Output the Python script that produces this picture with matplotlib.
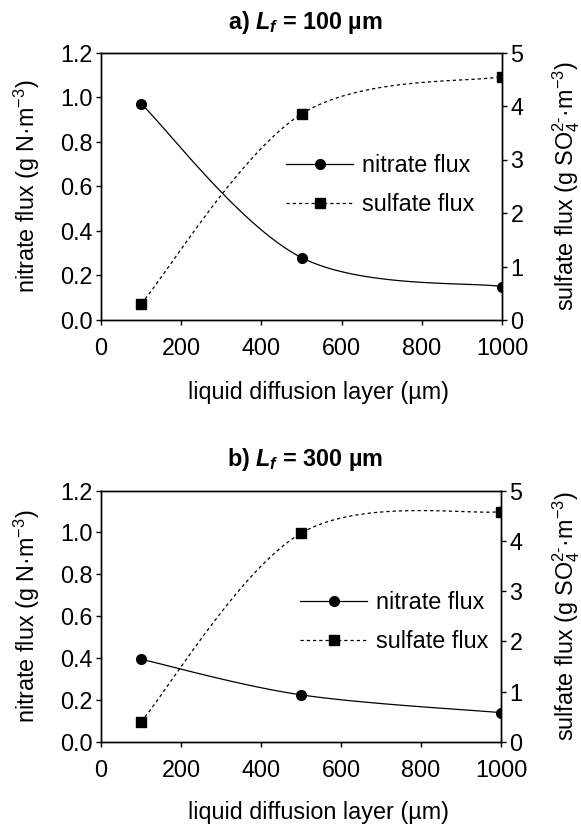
import numpy as np
import matplotlib
matplotlib.use("Agg")
import matplotlib.pyplot as plt

plt.rcParams['font.family'] = ['Liberation Sans', 'DejaVu Sans']
plt.rcParams['mathtext.fontset'] = 'custom'
plt.rcParams['mathtext.rm'] = 'Liberation Sans'
plt.rcParams['mathtext.it'] = 'Liberation Sans:italic:bold'
plt.rcParams['mathtext.bf'] = 'Liberation Sans:bold'

# data
layer = [100, 500, 1000]          # liquid diffusion layer (um)
nitrate_a = [0.97, 0.28, 0.15]    # g N/m3
sulfate_a = [0.30, 3.85, 4.55]    # g SO4/m3
nitrate_b = [0.395, 0.225, 0.14]
sulfate_b = [0.40, 4.15, 4.58]
titles = [r'a) $L_f$ = 100 µm', r'b) $L_f$ = 300 µm']
xticks = [0, 200, 400, 600, 800, 1000]
left_ticks = [0.0, 0.2, 0.4, 0.6, 0.8, 1.0, 1.2]
right_ticks = [0, 1, 2, 3, 4, 5]

FS = 16.8
W, H = 581, 827


def smooth(x, y, n=60):
    # excel-like smoothed line: cubic bezier with 1/6 tangents
    x = np.asarray(x, float)
    y = np.asarray(y, float)
    px, py = [], []
    for i in range(len(x) - 1):
        i0 = max(i - 1, 0)
        i3 = min(i + 2, len(x) - 1)
        c1x = x[i] + (x[i + 1] - x[i0]) / 6
        c1y = y[i] + (y[i + 1] - y[i0]) / 6
        c2x = x[i + 1] - (x[i3] - x[i]) / 6
        c2y = y[i + 1] - (y[i3] - y[i]) / 6
        t = np.linspace(0, 1, n)
        b0, b1, b2, b3 = (1 - t) ** 3, 3 * t * (1 - t) ** 2, 3 * t ** 2 * (1 - t), t ** 3
        px.append(b0 * x[i] + b1 * c1x + b2 * c2x + b3 * x[i + 1])
        py.append(b0 * y[i] + b1 * c1y + b2 * c2y + b3 * y[i + 1])
    return np.concatenate(px), np.concatenate(py)


def rect(l, t, r, b):
    return [l / W, 1 - b / H, (r - l) / W, (b - t) / H]


fig = plt.figure(figsize=(W / 100, H / 100), dpi=100)

# axes rect, legend corner, title y, xlabel y (pixels from top)
panels = [
    (nitrate_a, sulfate_a, rect(101, 52.5, 502, 320), (286, 154), 23, 393),
    (nitrate_b, sulfate_b, rect(101, 490.5, 501, 742), (300, 591), 460, 813),
]

dash = (0, (2.6, 2.4))

for k, (nit, sul, r, leg_xy, ty, xy) in enumerate(panels):
    ax = fig.add_axes(r)
    ax2 = ax.twinx()

    sx, sy = smooth(layer, nit)
    ax.plot(sx, sy, color='black', lw=0.9)
    ax.plot(layer, nit, 'o', color='black', ms=7)
    sx, sy = smooth(layer, sul)
    ax2.plot(sx, sy, color='black', lw=0.9, linestyle=dash)
    ax2.plot(layer, sul, 's', color='black', ms=7)

    ax.set_xlim(0, 1000)
    ax.set_ylim(0, 1.2)
    ax2.set_ylim(0, 5)
    ax.set_xticks(xticks)
    ax.set_yticks(left_ticks)
    ax.set_yticklabels([f'{v:.1f}' for v in left_ticks])
    ax2.set_yticks(right_ticks)

    for a in (ax, ax2):
        a.tick_params(direction='out', length=3.6, width=1.0, labelsize=FS, pad=2.5)
        for s in a.spines.values():
            s.set_linewidth(1.0)
    ax.tick_params(axis='x', pad=8.5)

    # legend proxies
    h1, = ax.plot([], [], '-o', color='black', lw=0.9, ms=7)
    h2, = ax.plot([], [], marker='s', color='black', lw=0.9, ms=7, linestyle=dash)
    fig.legend([h1, h2], ['nitrate flux', 'sulfate flux'], loc='upper left',
               bbox_to_anchor=(leg_xy[0] / W, 1 - leg_xy[1] / H), frameon=False,
               fontsize=FS, handlelength=2.88, handletextpad=0.39,
               labelspacing=0.69, borderpad=0, borderaxespad=0)

    mid = r[1] + r[3] / 2
    fig.text(305 / W, 1 - ty / H, titles[k], ha='center', va='center',
             fontsize=FS, fontweight='bold')
    fig.text(27 / W, mid, r'nitrate flux (g N·m$^{-3}$)', rotation=90,
             ha='center', va='center', fontsize=FS)
    fig.text(566 / W, mid, r'sulfate flux (g SO$_4^{2‐}$·m$^{-3}$)', rotation=90,
             ha='center', va='center', fontsize=FS)
    fig.text(318 / W, 1 - xy / H, 'liquid diffusion layer (µm)',
             ha='center', va='center', fontsize=FS)

fig.savefig('out.png', dpi=100)
